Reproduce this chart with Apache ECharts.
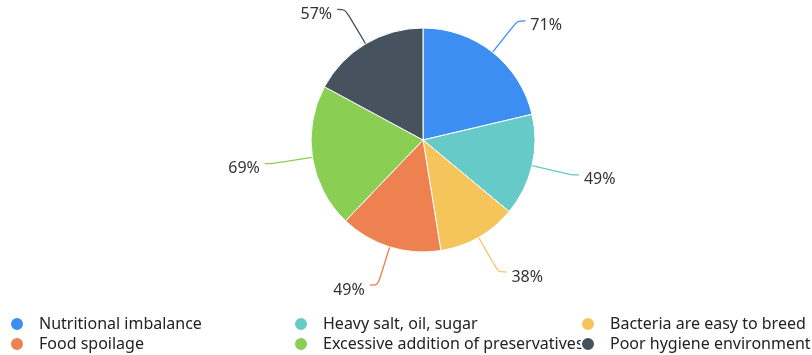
<!DOCTYPE html>
<html><head><meta charset="utf-8">
<script src="https://cdn.jsdelivr.net/npm/echarts@6/dist/echarts.min.js"></script>
<style>html,body{margin:0;padding:0;background:#fff}#c{width:812px;height:355px}</style>
</head><body><div id="c"></div>
<script>
const categories = ["Nutritional imbalance","Heavy salt, oil, sugar","Bacteria are easy to breed","Food spoilage","Excessive addition of preservatives","Poor hygiene environment"];
const values = [71,49,38,49,69,57];
const colors = ["#3d8ef3","#66cac8","#f5c55c","#ee8150","#8acf53","#46525e"];

const chart = echarts.init(document.getElementById('c'));
const legendBase = {
  orient: 'vertical', top: 316, height: 40, padding: 0, itemWidth: 14, itemHeight: 14, itemGap: 4, icon: 'circle',
  textStyle: {fontSize: 16, lineHeight: 16, color: '#222', fontFamily: 'Noto Sans', padding: [0,0,0,10]}
};
chart.setOption({
  animation: false,
  color: colors,
  legend: [
    Object.assign({}, legendBase, {left: 9, data: [categories[0], categories[3]]}),
    Object.assign({}, legendBase, {left: 293, data: [categories[1], categories[4]]}),
    Object.assign({}, legendBase, {left: 580, data: [categories[2], categories[5]]})
  ],
  series: [{
    type: 'pie',
    center: [423, 140],
    radius: [0, 112],
    startAngle: 90,
    clockwise: true,
    data: categories.map((n, i) => ({name: n, value: values[i]})),
    itemStyle: {borderColor: '#fff', borderWidth: 1},
    label: {formatter: '{c}%', fontSize: 16, color: '#333', fontFamily: 'Noto Sans'},
    labelLayout: {dy: 5},
    labelLine: {length: 40, length2: 8, smooth: true, lineStyle: {width: 1.3}}
  }]
});
</script></body></html>
